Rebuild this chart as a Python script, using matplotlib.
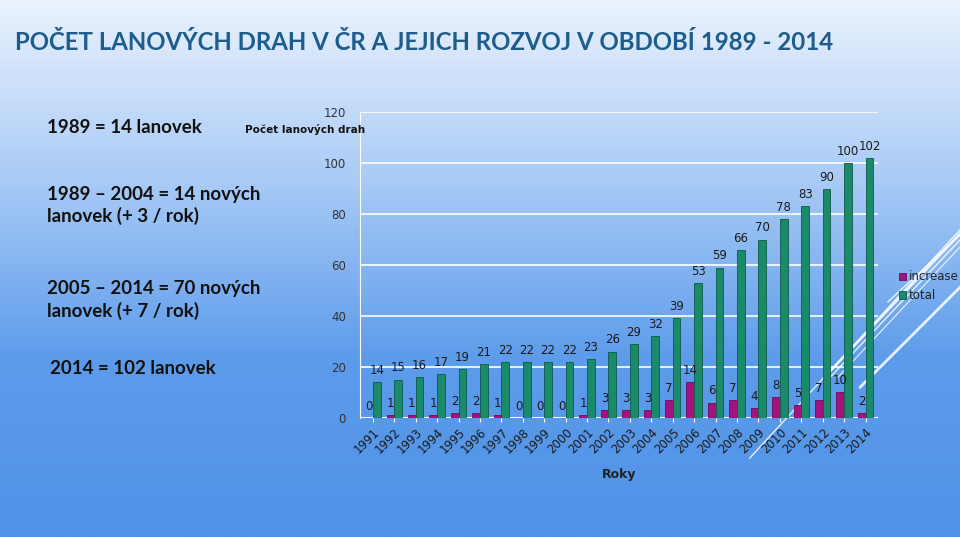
import matplotlib.pyplot as plt
import numpy as np
from matplotlib.colors import LinearSegmentedColormap

years = [str(y) for y in range(1991, 2015)]
increase = [0, 1, 1, 1, 2, 2, 1, 0, 0, 0, 1, 3, 3, 3, 7, 14, 6, 7, 4, 8, 5, 7, 10, 2]
total = [14, 15, 16, 17, 19, 21, 22, 22, 22, 22, 23, 26, 29, 32, 39, 53, 59, 66, 70, 78, 83, 90, 100, 102]

side_notes = [
    ("1989 = 14 lanovek", 0.049, 0.763),
    ("1989 – 2004 = 14 nových\nlanovek (+ 3 / rok)", 0.049, 0.617),
    ("2005 – 2014 = 70 nových\nlanovek (+ 7 / rok)", 0.049, 0.441),
    ("2014 = 102 lanovek", 0.052, 0.313),
]

fig = plt.figure(figsize=(9.6, 5.37), dpi=100)

# background gradient
bg = fig.add_axes([0, 0, 1, 1], zorder=0)
grad = np.linspace(0, 1, 256).reshape(-1, 1)
cmap = LinearSegmentedColormap.from_list("bg", ["#eaf2fd", "#a9cbf6", "#5d9ceb", "#4f92e6"])
bg.imshow(grad, aspect="auto", cmap=cmap, extent=[0, 1, 0, 1], origin="upper")
# decorative diagonal lines bottom right
for x0, y0, x1, y1, lw in [(0.781, 0.147, 1.0, 0.572, 1.0),
                            (0.865, 0.298, 1.0, 0.553, 1.0), (0.858, 0.296, 1.0, 0.565, 1.8),
                            (0.872, 0.296, 1.0, 0.540, 0.8),
                            (0.896, 0.279, 1.0, 0.465, 2.0),
                            (0.925, 0.438, 1.0, 0.562, 1.0)]:
    bg.plot([x0, x1], [y0, y1], color="white", lw=lw, alpha=0.85)
bg.set_xlim(0, 1)
bg.set_ylim(0, 1)
bg.axis("off")

fig.text(0.016, 0.92, "POČET LANOVÝCH DRAH V ČR A JEJICH ROZVOJ V OBDOBÍ 1989 - 2014",
         fontsize=17.3, fontweight="bold", color="#1d5c8c", va="center", family="Lato")

for txt, x, y in side_notes:
    fig.text(x, y, txt, fontsize=13.5, color="#111111", va="center", linespacing=1.3,
             family="Lato", fontweight="bold")

ax = fig.add_axes([0.375, 0.222, 0.54, 0.569], zorder=1)
ax.patch.set_alpha(0)
x = np.arange(len(years))
w = 0.36
b1 = ax.bar(x - w / 2, increase, w, color="#a3137f", edgecolor="#6e0b55", lw=0.6, label="increase", zorder=3)
b2 = ax.bar(x + w / 2, total, w, color="#1b8a6b", edgecolor="#0d5a44", lw=0.6, label="total", zorder=3)
for rect, v in zip(b1, increase):
    ax.text(rect.get_x() + rect.get_width() / 2, v + 2, str(v), ha="center", va="bottom",
            fontsize=8.5, color="#1a1a1a")
for rect, v in zip(b2, total):
    ax.text(rect.get_x() + rect.get_width() / 2, v + 2, str(v), ha="center", va="bottom",
            fontsize=8.5, color="#1a1a1a")

ax.set_ylim(0, 120)
ax.set_xlim(-0.6, len(years) - 0.4)
ax.set_yticks(range(0, 121, 20))
ax.yaxis.grid(True, color="white", lw=1.2, zorder=0)
ax.set_axisbelow(True)
for s in ["top", "right", "bottom"]:
    ax.spines[s].set_visible(False)
ax.spines["left"].set_color("white")
ax.axhline(0, color="white", lw=1.5, zorder=2)
ax.tick_params(axis="y", length=0, labelsize=8.5, labelcolor="#333333", pad=10)
ax.set_xticks(x)
ax.set_xticklabels(years, rotation=45, ha="right", rotation_mode="anchor", fontsize=8.5, color="#1a1a1a")
ax.tick_params(axis="x", length=3, color="white", pad=3)
ax.set_xlabel("Roky", fontsize=9, fontweight="bold", color="#222222", labelpad=8)

fig.text(0.255, 0.752, "Počet lanových drah", fontsize=7.5, fontweight="bold", color="#111111")

ax.legend(loc="center left", bbox_to_anchor=(1.02, 0.43), frameon=False, fontsize=8.5,
          handlelength=0.6, handleheight=0.6, handletextpad=0.2, labelspacing=0.5,
          labelcolor="#222222")

fig.savefig("out.png", dpi=100)
